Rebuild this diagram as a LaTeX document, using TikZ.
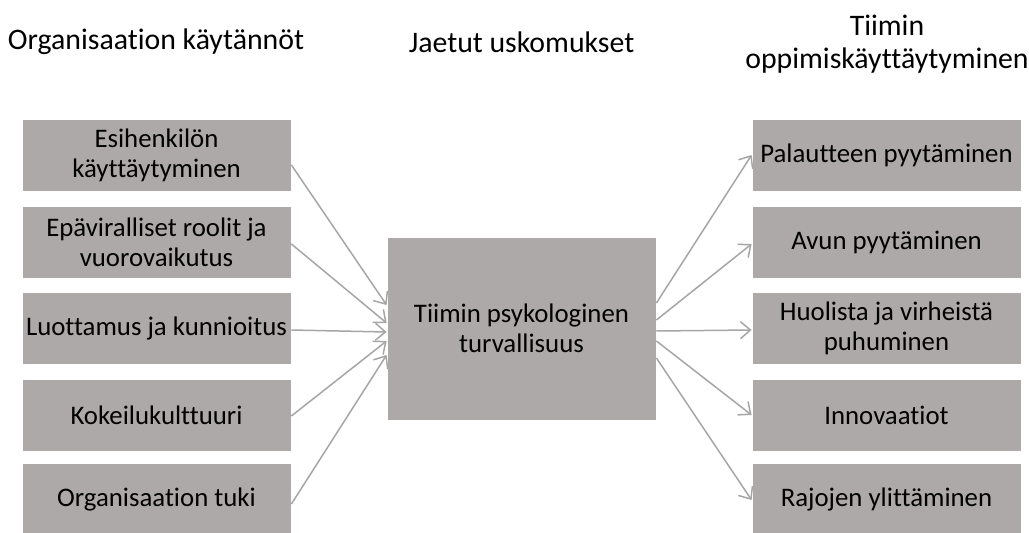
\documentclass[tikz,border=0pt]{standalone}
\usepackage{fontspec}
\setmainfont{Carlito}[Ligatures=NoCommon]
\usetikzlibrary{arrows.meta}
\definecolor{boxgray}{HTML}{ADA9A8}
\definecolor{arrowgray}{HTML}{A6A6A6}
\begin{document}
\begin{tikzpicture}[x=1pt,y=-1pt,
  box/.style={fill=boxgray, draw=white, line width=0.8pt, minimum width=269pt, minimum height=72pt, inner sep=0pt, align=center, font=\fontsize{26.8}{30}\selectfont, text=black},
  title/.style={align=center, font=\fontsize{29.8}{33}\selectfont, inner sep=0pt},
  conn/.style={draw=arrowgray, line width=1.5pt, -{Straight Barb[length=10pt,width=17pt,line width=1.5pt]}}
]
\useasboundingbox (0,0) rectangle (1029,533);
% titles
\node[title] (t1) at (156,42) {Organisaation käytännöt};
\node[title] (t2) at (521.5,42) {Jaetut uskomukset};
\node[title] (t3) at (887,44) {Tiimin\\oppimiskäyttäytyminen};
% left boxes
\node[box] (l1) at (156.5,155) {Esihenkilön\\käyttäytyminen};
\node[box] (l2) at (156.5,242) {Epäviralliset roolit ja\\vuorovaikutus};
\node[box] (l3) at (156.5,328.5) {Luottamus ja kunnioitus};
\node[box] (l4) at (156.5,415) {Kokeilukulttuuri};
\node[box] (l5) at (156.5,499) {Organisaation tuki};
% center
\node[box, minimum height=183pt] (c) at (521.5,328.5) {Tiimin psykologinen\\turvallisuus};
% right boxes
\node[box] (r1) at (886.5,155) {Palautteen pyytäminen};
\node[box] (r2) at (886.5,242) {Avun pyytäminen};
\node[box] (r3) at (886.5,328.5) {Huolista ja virheistä\\puhuminen};
\node[box] (r4) at (886.5,415) {Innovaatiot};
\node[box] (r5) at (886.5,499) {Rajojen ylittäminen};
% left connectors
\draw[conn] ([yshift=-10pt]l1.east) -- ([yshift=23.5pt]c.west);
\draw[conn] ([yshift=-2pt]l2.east) -- ([yshift=5.5pt]c.west);
\draw[conn] ([yshift=-1.5pt]l3.east) -- ([yshift=-3.5pt]c.west);
\draw[conn] ([yshift=-1pt]l4.east) -- ([yshift=-12.5pt]c.west);
\draw[conn] ([yshift=-5pt]l5.east) -- ([yshift=-26.5pt]c.west);
% right connectors
\draw[conn] ([yshift=25.5pt]c.east) -- (r1.west);
\draw[conn] ([yshift=8.5pt]c.east) -- ([yshift=-2pt]r2.west);
\draw[conn] ([yshift=-2.5pt]c.east) -- ([yshift=-1.5pt]r3.west);
\draw[conn] ([yshift=-12.5pt]c.east) -- (r4.west);
\draw[conn] ([yshift=-29.5pt]c.east) -- ([yshift=-1pt]r5.west);
\end{tikzpicture}
\end{document}
